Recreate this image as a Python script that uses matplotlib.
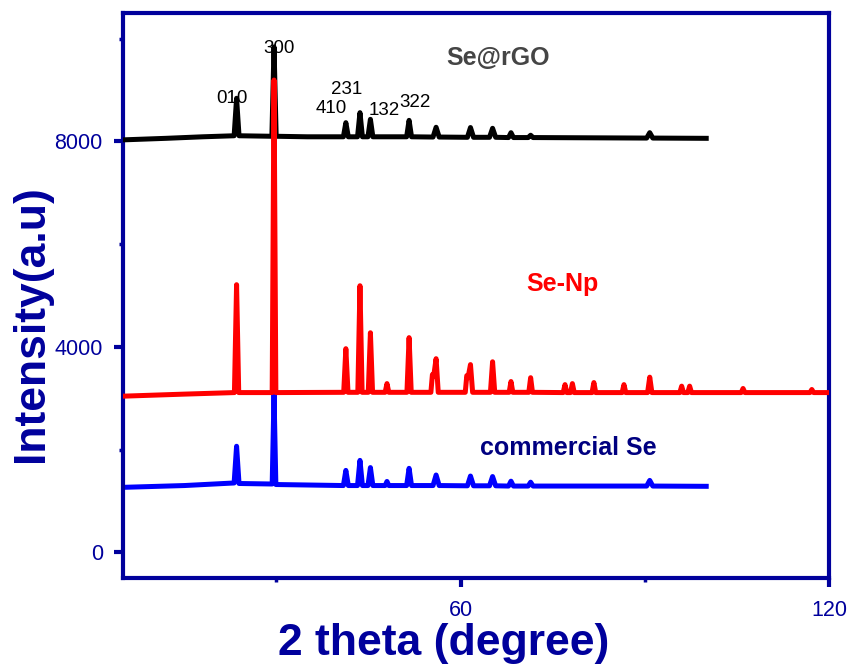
import matplotlib
matplotlib.use("Agg")
import matplotlib.pyplot as plt
from matplotlib.ticker import FixedLocator

plt.rcParams['font.family'] = ['Liberation Sans', 'DejaVu Sans']

# Se@rGO (black) - vertices
rgo_x = [5, 12, 18, 23.1, 23.5, 23.9, 29.25, 29.6, 29.95, 35, 40.9, 41.3, 41.7,
         43.2, 43.6, 44.0, 44.9, 45.3, 45.7, 51.2, 51.6, 52.0, 55.5, 56.0, 56.5,
         61.1, 61.6, 62.1, 64.7, 65.2, 65.7, 67.8, 68.2, 68.6, 71.0, 71.4, 71.8,
         90.3, 90.8, 91.3, 100]
rgo_y = [8030, 8060, 8090, 8110, 8840, 8110, 8100, 9840, 8100, 8090, 8090, 8365, 8090,
         8090, 8560, 8090, 8090, 8430, 8090, 8090, 8410, 8090, 8085, 8275, 8085,
         8080, 8270, 8080, 8080, 8255, 8080, 8075, 8170, 8075, 8075, 8120, 8075,
         8065, 8170, 8065, 8060]

# Se-Np (red)
np_x = [5, 15, 23.15, 23.5, 23.85, 29.3, 29.6, 29.9, 40.95, 41.3, 41.65, 43.25, 43.6,
        43.95, 44.95, 45.3, 45.65, 47.7, 48.0, 48.3, 51.25, 51.6, 51.95, 55.15, 55.4,
        55.6, 56.0, 56.35, 60.75, 61.0, 61.2, 61.6, 61.95, 64.85, 65.2, 65.55, 67.9,
        68.2, 68.5, 71.1, 71.4, 71.7, 76.7, 77.0, 77.3, 77.9, 78.2, 78.5, 81.4, 81.7,
        82.0, 86.3, 86.6, 86.9, 90.45, 90.8, 91.15, 95.7, 96.0, 96.3, 97.0, 97.3,
        97.6, 105.7, 106.0, 106.3, 116.9, 117.2, 117.5, 120]
np_y = [3040, 3080, 3110, 5210, 3110, 3110, 9195, 3110, 3115, 3965, 3115, 3115, 5190,
        3115, 3115, 4275, 3115, 3115, 3285, 3115, 3115, 4180, 3115, 3115, 3460,
        3420, 3770, 3115, 3115, 3440, 3400, 3655, 3115, 3115, 3710, 3115, 3115,
        3325, 3115, 3115, 3400, 3115, 3110, 3265, 3110, 3110, 3285, 3110, 3110, 3305,
        3110, 3110, 3265, 3110, 3110, 3410, 3110, 3110, 3235, 3110, 3110, 3235,
        3110, 3110, 3190, 3110, 3110, 3170, 3110, 3110]

# commercial Se (blue)
com_x = [5, 15, 23.1, 23.5, 23.9, 29.3, 29.6, 29.9, 40.9, 41.3, 41.7, 43.2, 43.6, 44.0,
         44.9, 45.3, 45.7, 47.7, 48.0, 48.3, 51.2, 51.6, 52.0, 55.5, 56.0, 56.5, 61.1,
         61.6, 62.1, 64.7, 65.2, 65.7, 67.8, 68.2, 68.6, 71.0, 71.4, 71.8, 90.3, 90.8,
         91.3, 100]
com_y = [1265, 1300, 1350, 2065, 1340, 1330, 3070, 1320, 1300, 1595, 1300, 1300, 1790, 1300,
         1300, 1650, 1300, 1300, 1380, 1300, 1300, 1635, 1300, 1300, 1505, 1300, 1295,
         1485, 1295, 1295, 1475, 1295, 1290, 1385, 1290, 1290, 1365, 1290, 1290, 1400,
         1290, 1285]

hkl_labels = ['010', '300', '410', '231', '132', '322']
hkl_x = [22.8, 30.4, 39.0, 41.5, 47.5, 52.6]
hkl_y = [8845, 9817, 8631, 9001, 8595, 8767]

navy = '#00009c'

fig = plt.figure(figsize=(8.49, 6.66), dpi=100)
ax = fig.add_axes([123 / 849, 1 - 578 / 666, (829 - 123) / 849, (578 - 13) / 666])

ax.plot(com_x, com_y, color='#0000ff', lw=3.6, zorder=2)
ax.plot(rgo_x, rgo_y, color='black', lw=3.6, zorder=3)
ax.plot(np_x, np_y, color='#ff0000', lw=3.6, zorder=4)

for lab, x, y in zip(hkl_labels, hkl_x, hkl_y):
    ax.text(x, y, lab, fontsize=13.5, color='black', ha='center', va='center', zorder=5)

ax.text(66.1, 9623, 'Se@rGO', fontsize=18, fontweight='bold', color='#454545', ha='center', va='center')
ax.text(76.5, 5229, 'Se-Np', fontsize=18, fontweight='bold', color='#ff0000', ha='center', va='center')
ax.text(77.6, 2022, 'commercial Se', fontsize=18, fontweight='bold', color='#000080', ha='center', va='center')

ax.set_xlim(5, 120)
ax.set_ylim(-500, 10500)
ax.set_xticks([60, 120])
ax.set_yticks([0, 4000, 8000])
ax.xaxis.set_minor_locator(FixedLocator([30, 90]))
ax.yaxis.set_minor_locator(FixedLocator([2000, 6000, 10000]))
ax.tick_params(which='major', direction='out', length=6.5, width=3, color=navy,
               labelcolor=navy, labelsize=15.5)
ax.tick_params(axis='y', which='major', pad=8)
ax.tick_params(axis='x', which='major', pad=9)
ax.tick_params(which='minor', direction='out', length=3, width=2.5, color=navy)
for s in ax.spines.values():
    s.set_color(navy)
    s.set_linewidth(3)

fig.text(444 / 849, 1 - 655 / 666, '2 theta (degree)', fontsize=32, fontweight='bold',
         color=navy, ha='center', va='baseline')
fig.text(32 / 849, 1 - 324 / 666, 'Intensity(a.u)', fontsize=32, fontweight='bold',
         color=navy, ha='center', va='center', rotation=90)

fig.savefig('out.png', dpi=100)
